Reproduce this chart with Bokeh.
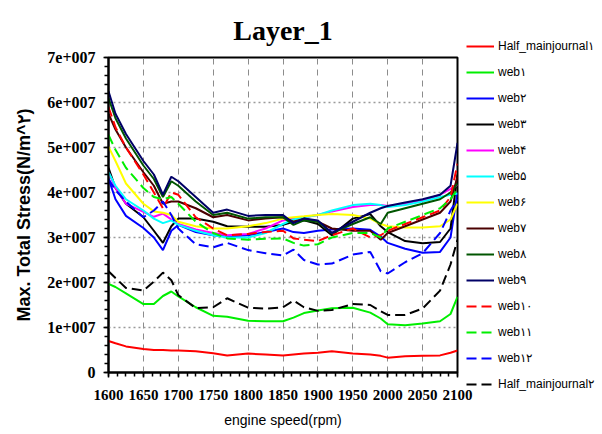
import numpy as np
from bokeh.plotting import figure
from bokeh.models import (ColumnDataSource, Legend, LegendItem, Range1d,
                          FixedTicker, CustomJSTickFormatter)
from bokeh.embed import file_html
from bokeh.resources import INLINE

# engine speed (rpm)
rpm = [1600, 1610, 1625, 1650, 1665, 1678, 1690, 1700, 1725, 1750, 1770, 1800, 1825, 1850,
       1865, 1880, 1900, 1920, 1950, 1975, 1990, 2000, 2025, 2050, 2075, 2090, 2100]

# Max. total stress, in units of 1e7 N/m^2
half_main1 = [0.70, 0.65, 0.58, 0.52, 0.50, 0.50, 0.49, 0.49, 0.47, 0.43, 0.38, 0.42, 0.40, 0.38,
              0.40, 0.42, 0.44, 0.47, 0.42, 0.40, 0.37, 0.33, 0.36, 0.37, 0.38, 0.44, 0.49]
web1 = [1.97, 1.90, 1.76, 1.52, 1.52, 1.70, 1.80, 1.69, 1.45, 1.26, 1.24, 1.15, 1.14, 1.14,
        1.22, 1.32, 1.38, 1.43, 1.44, 1.33, 1.20, 1.07, 1.05, 1.09, 1.14, 1.30, 1.68]
web2 = [4.31, 3.85, 3.48, 3.21, 3.00, 2.72, 3.15, 3.28, 3.12, 3.05, 3.02, 3.05, 3.12, 3.20,
        3.12, 3.10, 3.15, 3.18, 3.20, 3.17, 3.02, 2.88, 2.75, 2.66, 2.68, 3.00, 4.00]
web3 = [4.55, 4.10, 3.75, 3.45, 3.15, 2.88, 3.25, 3.42, 3.42, 3.35, 3.25, 3.24, 3.24, 3.28,
        3.35, 3.38, 3.30, 3.05, 3.42, 3.52, 3.25, 3.12, 2.92, 2.87, 2.90, 3.20, 4.40]
web4 = [4.45, 4.10, 3.75, 3.57, 3.46, 3.53, 3.40, 3.30, 3.18, 3.10, 3.05, 3.08, 3.20, 3.38,
        3.42, 3.45, 3.50, 3.58, 3.68, 3.72, 3.72, 3.70, 3.75, 3.82, 3.95, 4.08, 4.17]
web5 = [4.45, 4.15, 3.85, 3.60, 3.42, 3.32, 3.38, 3.28, 3.15, 3.05, 3.00, 3.00, 3.10, 3.30,
        3.40, 3.45, 3.50, 3.60, 3.72, 3.75, 3.72, 3.68, 3.72, 3.80, 3.90, 3.95, 3.98]
web6 = [5.02, 4.70, 4.20, 3.75, 3.58, 3.55, 3.50, 3.35, 3.25, 3.20, 3.20, 3.25, 3.32, 3.42,
        3.45, 3.47, 3.50, 3.52, 3.50, 3.42, 3.30, 3.25, 3.22, 3.22, 3.25, 3.40, 3.75]
web7 = [5.75, 5.40, 5.00, 4.45, 4.15, 3.75, 3.80, 3.80, 3.65, 3.45, 3.50, 3.38, 3.42, 3.45,
        3.35, 3.42, 3.35, 3.20, 3.15, 3.15, 2.95, 3.10, 3.25, 3.40, 3.55, 3.80, 4.35]
web8 = [6.10, 5.65, 5.20, 4.60, 4.30, 3.90, 4.25, 4.15, 3.80, 3.50, 3.55, 3.42, 3.45, 3.45,
        3.28, 3.38, 3.35, 3.10, 3.30, 3.45, 3.30, 3.55, 3.65, 3.75, 3.85, 4.00, 4.20]
web9 = [6.25, 5.75, 5.30, 4.70, 4.40, 3.95, 4.35, 4.25, 3.90, 3.55, 3.62, 3.48, 3.50, 3.50,
        3.32, 3.42, 3.38, 3.10, 3.35, 3.55, 3.65, 3.70, 3.78, 3.85, 3.95, 4.15, 5.10]
web10 = [5.90, 5.45, 5.00, 4.40, 4.00, 3.65, 4.00, 3.95, 3.45, 3.20, 3.05, 3.08, 3.12, 3.15,
         2.98, 2.95, 2.92, 3.05, 3.20, 3.00, 3.05, 3.15, 3.30, 3.45, 3.60, 3.90, 4.64]
web11 = [5.28, 4.95, 4.55, 4.10, 3.90, 3.85, 3.90, 3.75, 3.35, 3.10, 2.98, 2.95, 2.97, 2.98,
         2.88, 2.82, 2.85, 3.00, 3.10, 3.10, 3.00, 3.20, 3.35, 3.50, 3.65, 3.85, 4.08]
web12 = [4.30, 4.05, 3.80, 3.45, 3.60, 3.80, 3.50, 3.20, 2.85, 2.78, 2.88, 2.72, 2.65, 2.60,
         2.73, 2.50, 2.40, 2.42, 2.62, 2.68, 2.25, 2.20, 2.45, 2.65, 3.10, 3.60, 3.85]
half_main2 = [2.25, 2.10, 1.88, 1.82, 2.02, 2.22, 2.05, 1.72, 1.43, 1.45, 1.65, 1.44, 1.42, 1.45,
              1.60, 1.45, 1.37, 1.39, 1.52, 1.50, 1.36, 1.28, 1.28, 1.42, 1.82, 2.40, 2.95]

SCALE = 1e7

labels = ["Half_mainjournal\u06f1", "web\u06f1", "web\u06f2", "web\u06f3", "web\u06f4",
          "web\u06f5", "web\u06f6", "web\u06f7", "web\u06f8", "web\u06f9",
          "web\u06f1\u06f0", "web\u06f1\u06f1", "web\u06f1\u06f2", "Half_mainjournal\u06f2"]
series = [half_main1, web1, web2, web3, web4, web5, web6, web7, web8, web9,
          web10, web11, web12, half_main2]
colors = ["#ff0000", "#00ee00", "#0000ff", "#000000", "#ff00ff", "#00ffff", "#ffff00",
          "#4a0000", "#005500", "#000066", "#ff0000", "#00ee00", "#0000ff", "#000000"]
dashes = ["solid"] * 10 + ["10 5"] * 4

x_ticks = list(range(1600, 2101, 50))
y_ticks = [i * SCALE for i in range(0, 8)]

SANS = "Liberation Sans"

p = figure(frame_width=349, frame_height=315, output_backend="svg", toolbar_location=None,
           x_range=Range1d(1600, 2100), y_range=Range1d(0, 7e7),
           min_border_left=108, min_border_right=145, min_border_top=57, min_border_bottom=62,
           background_fill_color="white", border_fill_color="white")

p.title.text = "Layer_1"
p.title.align = "center"
p.title.text_font = "Liberation Serif"
p.title.text_font_size = "28px"
p.title.text_font_style = "bold"
p.title.text_color = "black"
p.title.standoff = 24

items = []
for lab, ys, c, d in zip(labels, series, colors, dashes):
    src = ColumnDataSource(dict(x=rpm, y=[v * SCALE for v in ys]))
    r = p.line("x", "y", source=src, line_color=c, line_width=2, line_dash=d)
    items.append(LegendItem(label=lab, renderers=[r]))

legend = Legend(items=items, location=(9, -22), orientation="vertical",
                glyph_width=28, glyph_height=20, label_height=20, spacing=6,
                padding=0, margin=0, label_standoff=4,
                label_text_font=SANS,
                label_text_font_size="12px", label_text_color="black",
                background_fill_alpha=0, border_line_alpha=0)
p.add_layout(legend, "right")

# axes
p.xaxis.ticker = FixedTicker(ticks=x_ticks, minor_ticks=list(np.arange(1600, 2101, 12.5)))
p.yaxis.ticker = FixedTicker(ticks=y_ticks, minor_ticks=[i * 2e6 for i in range(0, 36)])
p.yaxis.formatter = CustomJSTickFormatter(
    code="return tick == 0 ? '0' : (tick/1e7).toFixed(0) + 'e+007';")

for ax in (p.xaxis[0], p.yaxis[0]):
    ax.axis_line_color = "black"
    ax.axis_line_width = 2
    ax.major_tick_line_color = "black"
    ax.minor_tick_line_color = "black"
    ax.major_tick_line_width = 1.5
    ax.minor_tick_line_width = 1.5
    ax.major_tick_out = 5
    ax.major_tick_in = 0
    ax.minor_tick_out = 4
    ax.minor_tick_in = 0
    ax.major_label_text_font = "Liberation Serif"
    ax.major_label_text_font_style = "bold"
    ax.major_label_text_color = "black"

p.xaxis.major_label_text_font_size = "15px"
p.yaxis.major_label_text_font_size = "16px"
p.xaxis.major_label_standoff = 12
p.yaxis.major_label_standoff = 8

p.xaxis.axis_label = "engine speed(rpm)"
p.xaxis.axis_label_text_font = SANS
p.xaxis.axis_label_text_font_size = "14px"
p.xaxis.axis_label_text_font_style = "normal"
p.xaxis.axis_label_text_color = "black"
p.xaxis.axis_label_standoff = 9

p.yaxis.axis_label = "Max. Total Stress(N/m^\u06f2)"
p.yaxis.axis_label_text_font = SANS
p.yaxis.axis_label_text_font_size = "18px"
p.yaxis.axis_label_text_font_style = "bold"
p.yaxis.axis_label_text_color = "black"
p.yaxis.axis_label_standoff = 10

p.xgrid.grid_line_color = "#8c8c8c"
p.xgrid.grid_line_dash = "6 5"
p.xgrid.grid_line_width = 1
p.ygrid.grid_line_color = "#9a9a9a"
p.ygrid.grid_line_dash = "2 3"
p.ygrid.grid_line_width = 1.5

p.outline_line_color = "black"
p.outline_line_width = 2

open("out.html", "w").write(file_html(p, INLINE))
